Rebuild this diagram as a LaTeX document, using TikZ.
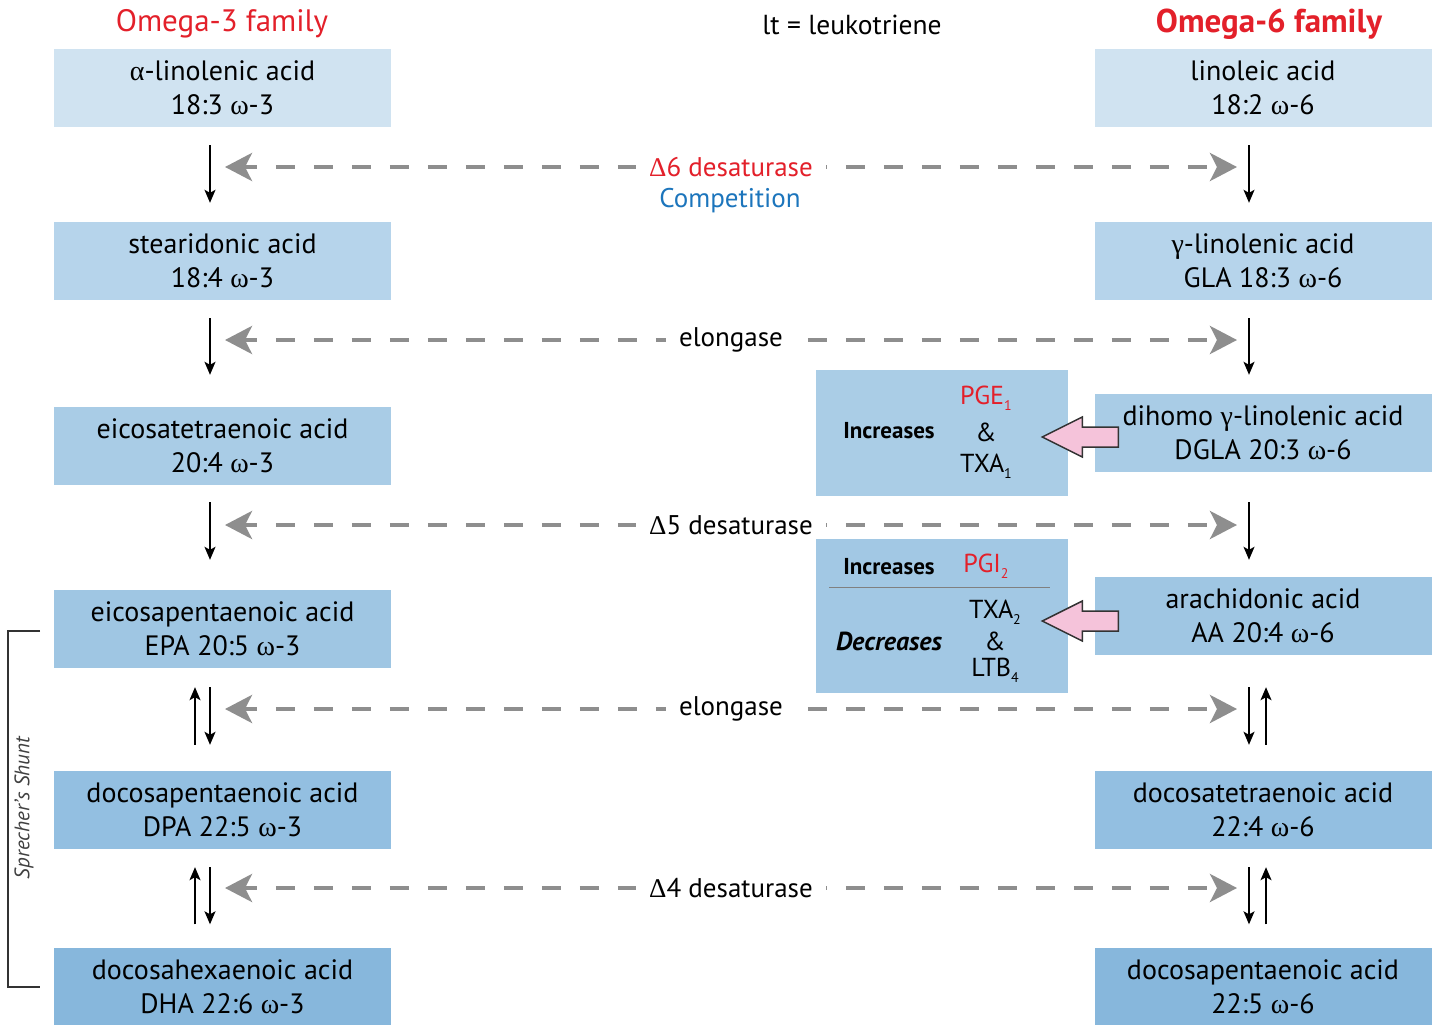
\documentclass[tikz,border=0pt]{standalone}
\usepackage{fontspec}
\setmainfont{PT Sans}
\newfontfamily\grk{Liberation Serif}
\usepackage{xcolor}
\usetikzlibrary{arrows.meta,positioning,calc}

\definecolor{rowa}{HTML}{D0E3F1}
\definecolor{rowb}{HTML}{B6D4EB}
\definecolor{rowc}{HTML}{A9CCE6}
\definecolor{rowd}{HTML}{9FC6E3}
\definecolor{rowe}{HTML}{93BFE1}
\definecolor{rowf}{HTML}{87B7DC}
\definecolor{mida}{HTML}{AACDE6}
\definecolor{midb}{HTML}{A2C8E4}
\definecolor{omred}{HTML}{E3202A}
\definecolor{compblue}{HTML}{1C75BC}
\definecolor{gapgray}{HTML}{8E8E8E}
\definecolor{pinkfill}{HTML}{F5C3DA}

\newcommand{\gk}[1]{{\grk #1}}
\newcommand{\lowsub}[1]{\raisebox{-0.45ex}{\fontsize{14}{14}\selectfont #1}}

\begin{document}
\begin{tikzpicture}[x=1pt, y=-1pt,
    acid/.style={minimum width=337pt, minimum height=78pt, inner sep=0pt,
        align=center, font=\fontsize{28}{34}\selectfont},
    effbox/.style={inner sep=0pt, minimum width=252pt},
    efftxt/.style={font=\fontsize{26}{32}\selectfont, inner sep=0pt, align=center},
    verb/.style={font=\bfseries\fontsize{23}{27}\selectfont, inner sep=0pt},
    gap/.style={draw=gapgray, line width=4pt, dash pattern=on 19pt off 19pt, dash phase=6pt,
        {Stealth[length=27pt,width=28pt,inset=7pt]}-{Stealth[length=27pt,width=28pt,inset=7pt]}},
    gaplbl/.style={fill=white, inner xsep=13pt, inner ysep=2pt,
        font=\fontsize{27}{32}\selectfont},
    stepdown/.style={line width=1.5pt, -{Stealth[length=13pt,width=11pt,inset=3pt]}},
    pinkarr/.style={draw=black!80, line width=1.5pt, fill=pinkfill, line join=miter}]
    \useasboundingbox (0,0) rectangle (1438,1025);

    % headers
    \node[text=omred, font=\fontsize{31}{34}\selectfont] (h3) at (222,24) {Omega-3 family};
    \node[text=omred, font=\bfseries\fontsize{33}{36}\selectfont] (h6) at (1269,24) {Omega-6 family};
    \node[font=\fontsize{27.5}{30}\selectfont] (lt) at (852,25) {lt = leukotriene};

    % omega-3 column
    \node[acid, fill=rowa] (w3a) at (222.5,88) {\gk{α}-linolenic acid\\18:3 \gk{ω}-3};
    \node[acid, fill=rowb] (w3b) at (222.5,261) {stearidonic acid\\18:4 \gk{ω}-3};
    \node[acid, fill=rowc] (w3c) at (222.5,446) {eicosatetraenoic acid\\20:4 \gk{ω}-3};
    \node[acid, fill=rowd] (w3d) at (222.5,629) {eicosapentaenoic acid\\EPA 20:5 \gk{ω}-3};
    \node[acid, fill=rowe] (w3e) at (222.5,810) {docosapentaenoic acid\\DPA 22:5 \gk{ω}-3};
    \node[acid, fill=rowf] (w3f) at (222.5,986.5) {docosahexaenoic acid\\DHA 22:6 \gk{ω}-3};

    % omega-6 column
    \node[acid, fill=rowa] (w6a) at (1263,88) {linoleic acid\\18:2 \gk{ω}-6};
    \node[acid, fill=rowb] (w6b) at (1263,261) {\gk{γ}-linolenic acid\\GLA 18:3 \gk{ω}-6};
    \node[acid, fill=rowc] (w6c) at (1263,433) {dihomo \gk{γ}-linolenic acid\\DGLA 20:3 \gk{ω}-6};
    \node[acid, fill=rowd] (w6d) at (1263,616) {arachidonic acid\\AA 20:4 \gk{ω}-6};
    \node[acid, fill=rowe] (w6e) at (1263,810) {docosatetraenoic acid\\22:4 \gk{ω}-6};
    \node[acid, fill=rowf] (w6f) at (1263,986.5) {docosapentaenoic acid\\22:5 \gk{ω}-6};

    % downward steps
    \foreach \a/\b/\s/\e in {w3a/w3b/18/19, w3b/w3c/18/32, w3c/w3d/17/30, w3d/w3e/19/26, w3e/w3f/18/23} {
        \draw[stepdown, shorten <=\s pt, shorten >=\e pt] ([xshift=-12.5pt]\a.south) -- ([xshift=-12.5pt]\b.north);
    }
    \foreach \a/\b/\s/\e in {w6a/w6b/18/19, w6b/w6c/18/19, w6c/w6d/30/17, w6d/w6e/32/26, w6e/w6f/18/23} {
        \draw[stepdown, shorten <=\s pt, shorten >=\e pt] ([xshift=-14pt]\a.south) -- ([xshift=-14pt]\b.north);
    }
    % retroconversion
    \draw[stepdown, shorten <=26pt, shorten >=19pt] ([xshift=-27.5pt]w3e.north) -- ([xshift=-27.5pt]w3d.south);
    \draw[stepdown, shorten <=23pt, shorten >=18pt] ([xshift=-27.5pt]w3f.north) -- ([xshift=-27.5pt]w3e.south);
    \draw[stepdown, shorten <=26pt, shorten >=32pt] ([xshift=3pt]w6e.north) -- ([xshift=3pt]w6d.south);
    \draw[stepdown, shorten <=23pt, shorten >=18pt] ([xshift=3pt]w6f.north) -- ([xshift=3pt]w6e.south);

    % shared enzymes
    \coordinate (e1l) at (225,167);  \coordinate (e1r) at (1237,167);
    \coordinate (e2l) at (225,340);  \coordinate (e2r) at (1237,340);
    \coordinate (e3l) at (225,525);  \coordinate (e3r) at (1237,525);
    \coordinate (e4l) at (225,709);  \coordinate (e4r) at (1237,709);
    \coordinate (e5l) at (225,888);  \coordinate (e5r) at (1237,888);
    \draw[gap] (e1l) -- node[gaplbl, text=omred] (d6) {\gk{Δ}6 desaturase} (e1r);
    \node[text=compblue, font=\fontsize{27}{32}\selectfont] (comp) at (730,201) {Competition};
    \draw[gap] (e2l) -- node[gaplbl] (el1) {elongase} (e2r);
    \draw[gap] (e3l) -- node[gaplbl] (d5) {\gk{Δ}5 desaturase} (e3r);
    \draw[gap] (e4l) -- node[gaplbl] (el2) {elongase} (e4r);
    \draw[gap] (e5l) -- node[gaplbl] (d4) {\gk{Δ}4 desaturase} (e5r);

    % eicosanoid effects
    \node[effbox, fill=mida, minimum height=126pt] (fx1) at (942,433) {};
    \node[verb] (inc1) at (889,431) {Increases};
    \node[efftxt, text=omred] (pge) at (986,398) {PGE\lowsub{1}};
    \node[efftxt] (amp1) at (986,432) {\&};
    \node[efftxt] (txa1) at (986,466) {TXA\lowsub{1}};

    \node[effbox, fill=midb, minimum height=154pt] (fx2) at (942,616) {};
    \node[verb] (inc2) at (889,567) {Increases};
    \node[efftxt, text=omred] (pgi) at (986,566) {PGI\lowsub{2}};
    \draw[gray, line width=0.8pt] (829,587) -- (1050,587);
    \node[verb, font=\bfseries\itshape\fontsize{26}{30}\selectfont] (dec) at (889,641) {Decreases};
    \node[efftxt] (txa2) at (995,612) {TXA\lowsub{2}};
    \node[efftxt] (amp2) at (995,641) {\&};
    \node[efftxt] (ltb) at (995,670) {LTB\lowsub{4}};

    % DGLA and AA feed the effect boxes
    \draw[pinkarr] ($(w6c.west)+(24,-6)$) -- ++(-36,0) -- ++(0,-10) -- ++(-40,20) -- ++(40,20) -- ++(0,-10) -- ++(36,0) -- cycle;
    \draw[pinkarr] ($(w6d.west)+(24,-5)$) -- ++(-36,0) -- ++(0,-10) -- ++(-40,20) -- ++(40,20) -- ++(0,-10) -- ++(36,0) -- cycle;

    % Sprecher's shunt
    \draw[black!80, line width=1.5pt] (40,631) -- (8,631) -- (8,987) -- (40,987);
    \node[rotate=90, text=black!75, font=\itshape\fontsize{21}{24}\selectfont] (shunt) at (24,808) {Sprecher’s Shunt};
\end{tikzpicture}
\end{document}
